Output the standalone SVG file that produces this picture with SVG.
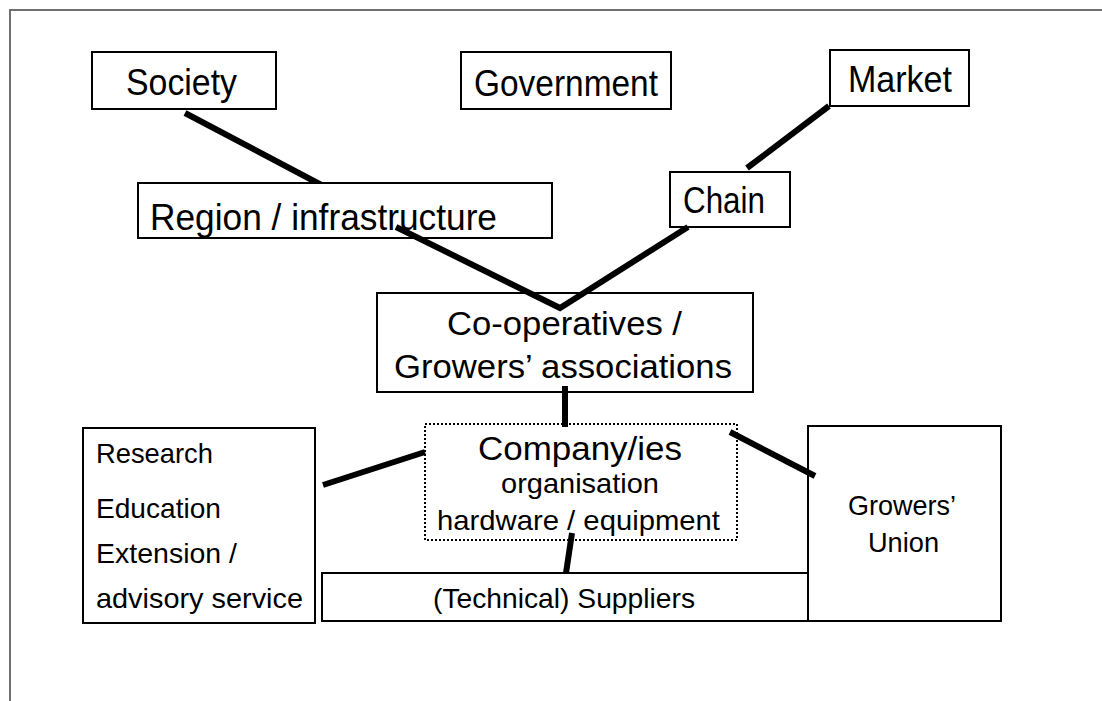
<svg xmlns="http://www.w3.org/2000/svg" width="1102" height="701" viewBox="0 0 1102 701">
<style>
.box{fill:#fff;stroke:#000;stroke-width:2}
.dot{fill:#fff;stroke:#000;stroke-width:2;stroke-dasharray:2 2}
.t{font-family:"Liberation Sans",Arial,sans-serif;fill:#000}
.xl{font-size:37px}
.l{font-size:33px}
.m{font-size:28px}
.con{stroke:#000;stroke-width:6;fill:none}
</style>
<rect width="1102" height="701" fill="#fff"/>
<path d="M10,701 V10 H1102" fill="none" stroke="#707070" stroke-width="2"/>
<g id="connectors">
<line class="con" x1="185" y1="113" x2="329" y2="189"/>
<line class="con" x1="747" y1="168" x2="829" y2="106"/>
<g id="company-box-bg"/>
</g>
<g id="society"><rect class="box" x="92" y="52" width="184" height="57"/><text class="t xl" x="126" y="95" textLength="111" lengthAdjust="spacingAndGlyphs">Society</text></g>
<g id="government"><rect class="box" x="461" y="52" width="210" height="57"/><text class="t xl" x="474" y="96" textLength="184" lengthAdjust="spacingAndGlyphs">Government</text></g>
<g id="market"><rect class="box" x="830" y="50" width="139" height="56"/><text class="t xl" x="848" y="92" textLength="104" lengthAdjust="spacingAndGlyphs">Market</text></g>
<g id="region"><rect class="box" x="138" y="183" width="414" height="55"/><text class="t xl" x="150" y="230" textLength="347" lengthAdjust="spacingAndGlyphs">Region / infrastructure</text></g>
<g id="chain"><rect class="box" x="670" y="172" width="120" height="55"/><text class="t xl" x="683" y="213" textLength="82" lengthAdjust="spacingAndGlyphs">Chain</text></g>
<g id="cooperatives"><rect class="box" x="377" y="293" width="376" height="99"/><text class="t l" x="447" y="335" textLength="235" lengthAdjust="spacingAndGlyphs">Co-operatives /</text><text class="t l" x="394" y="378" textLength="338" lengthAdjust="spacingAndGlyphs">Growers’ associations</text></g>
<g id="company"><rect class="dot" x="425" y="424" width="312" height="116"/><text class="t l" x="478" y="460" textLength="204" lengthAdjust="spacingAndGlyphs">Company/ies</text><text class="t m" x="501" y="493" textLength="158" lengthAdjust="spacingAndGlyphs">organisation</text><text class="t m" x="437" y="530" textLength="283" lengthAdjust="spacingAndGlyphs">hardware / equipment</text></g>
<g id="knowledge"><rect class="box" x="83" y="428" width="232" height="195"/><text class="t m" x="96" y="463" textLength="117" lengthAdjust="spacingAndGlyphs">Research</text><text class="t m" x="96" y="518" textLength="125" lengthAdjust="spacingAndGlyphs">Education</text><text class="t m" x="96" y="563" textLength="141" lengthAdjust="spacingAndGlyphs">Extension /</text><text class="t m" x="96" y="608" textLength="207" lengthAdjust="spacingAndGlyphs">advisory service</text></g>
<g id="suppliers"><rect class="box" x="322" y="573" width="486" height="48"/><text class="t m" x="433" y="608" textLength="262" lengthAdjust="spacingAndGlyphs">(Technical) Suppliers</text></g>
<g id="union"><rect class="box" x="808" y="426" width="193" height="195"/><text class="t m" x="848" y="515" textLength="108" lengthAdjust="spacingAndGlyphs">Growers’</text><text class="t m" x="868" y="552" textLength="71" lengthAdjust="spacingAndGlyphs">Union</text></g>
<g id="links">
<polyline class="con" points="396,227 560,308 688,227"/>
<line class="con" x1="565" y1="386" x2="565" y2="427"/>
<line class="con" x1="323" y1="485" x2="425" y2="452"/>
<line class="con" x1="730" y1="432" x2="815" y2="476"/>
<line class="con" x1="572" y1="533" x2="566" y2="573"/>
</g>
</svg>
